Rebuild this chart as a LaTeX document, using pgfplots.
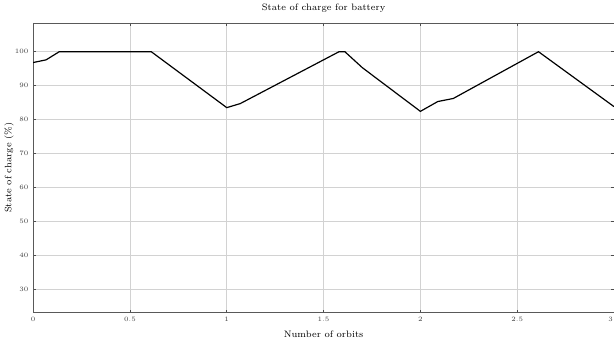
\documentclass[border=0pt]{standalone}
\usepackage{pgfplots}
\pgfplotsset{compat=1.18}
\begin{document}
\begin{tikzpicture}[trim axis right]
\begin{axis}[
  scale only axis,
  width=437pt, height=218pt,
  xmin=0, xmax=3, ymin=23, ymax=108.5,
  xtick={0,0.5,1,1.5,2,2.5,3},
  xticklabels={0,0.5,1,1.5,2,2.5,\makebox[0pt][r]{3\,}},
  ytick={30,40,50,60,70,80,90,100},
  grid=major,
  major grid style={gray!35, line width=0.4pt},
  axis line style={gray!70!black, line width=0.5pt},
  tick style={gray!60!black, line width=0.4pt},
  major tick length=2pt,
  tick label style={font=\tiny, text=black!75},
  title={State of charge for battery},
  title style={font=\scriptsize, yshift=-2pt},
  xlabel={Number of orbits},
  ylabel={State of charge (\%)},
  label style={font=\scriptsize},
  xlabel style={yshift=0pt},
  ylabel style={yshift=-6pt},
]
\addplot[black, line width=0.9pt] coordinates {
(0,96.8) (0.067,97.6) (0.135,100) (0.61,100) (1.0,83.5) (1.07,84.7)
(1.58,100) (1.61,100) (1.70,95.3) (2.0,82.4) (2.09,85.3) (2.17,86.2)
(2.61,100) (3.0,83.8)
};
\end{axis}
\end{tikzpicture}
\end{document}
